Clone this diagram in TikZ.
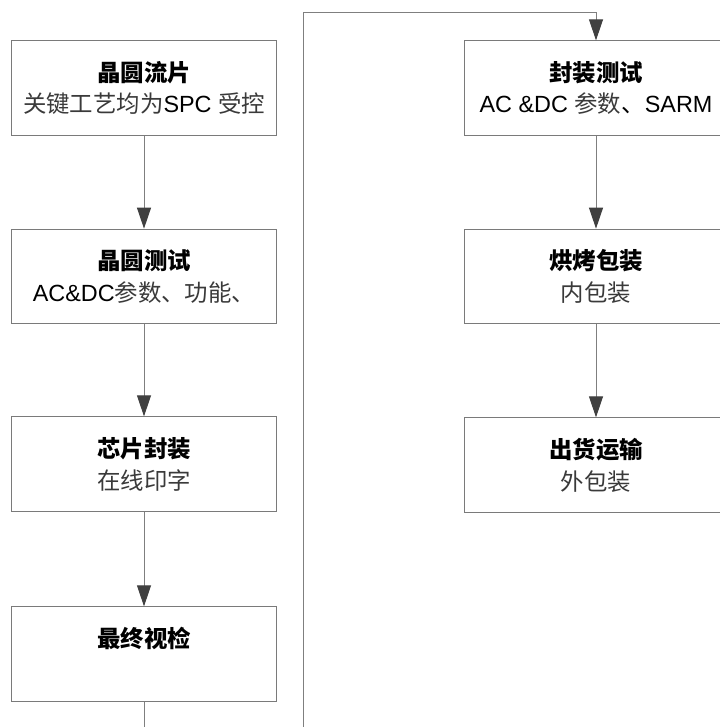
\documentclass[tikz,border=0pt]{standalone}
\usepackage{fontspec}
\setmainfont{Liberation Sans}
\newfontfamily\cjk{Noto Sans CJK SC}
\usetikzlibrary{arrows.meta}
\definecolor{boxline}{HTML}{7A7A7A}
\definecolor{connline}{HTML}{7F7F7F}
\definecolor{tipcol}{HTML}{404040}
\definecolor{subgray}{HTML}{3A3A3A}
\newcommand{\ttl}[1]{{\cjk\bfseries #1}}
\newcommand{\sbc}[1]{{\color{subgray}\cjk #1}}
\tikzset{
  stepbox/.style={draw=boxline, line width=1bp, fill=white, minimum width=264bp,
    minimum height=94.3bp, inner sep=0pt, align=center,
    font=\fontsize{23.5}{32}\selectfont},
  conn/.style={draw=connline, line width=1bp,
    -{Triangle[length=21bp,width=14bp,color=tipcol]}},
}
\begin{document}
\begin{tikzpicture}[x=1bp,y=-1bp]
\clip (0,0) rectangle (720,727);
\fill[white] (0,0) rectangle (720,727);
\node[stepbox] (b1) at (144,88) {\ttl{晶圆流片}\\\sbc{关键工艺均为}SPC \sbc{受控}};
\node[stepbox] (b2) at (144,276.3) {\ttl{晶圆测试}\\AC\&DC\sbc{参数、功能、}};
\node[stepbox] (b3) at (144,464) {\ttl{芯片封装}\\\sbc{在线印字}};
\node[stepbox] (b4) at (144,654) {\ttl{最终视检}\\\phantom{\sbc{内包装}}};
\node[stepbox] (b5) at (596,88) {\ttl{封装测试}\\AC \&DC \sbc{参数}{\cjk 、}SARM};
\node[stepbox] (b6) at (596,276.3) {\ttl{烘烤包装}\\\sbc{内包装}};
\node[stepbox] (b7) at (596,465) {\ttl{出货运输}\\\sbc{外包装}};
\coordinate (c1) at (144,735);
\coordinate (c2) at (303.3,735);
\coordinate (c3) at (303.3,12.7);
\coordinate (c4) at (596,12.7);
\draw[conn] (b1) -- (b2);
\draw[conn] (b2) -- (b3);
\draw[conn] (b3) -- (b4);
\draw[conn] (b4.south) -- (c1) -- (c2) -- (c3) -- (c4) -- (b5.north);
\draw[conn] (b5) -- (b6);
\draw[conn] (b6) -- (b7);
\end{tikzpicture}
\end{document}
